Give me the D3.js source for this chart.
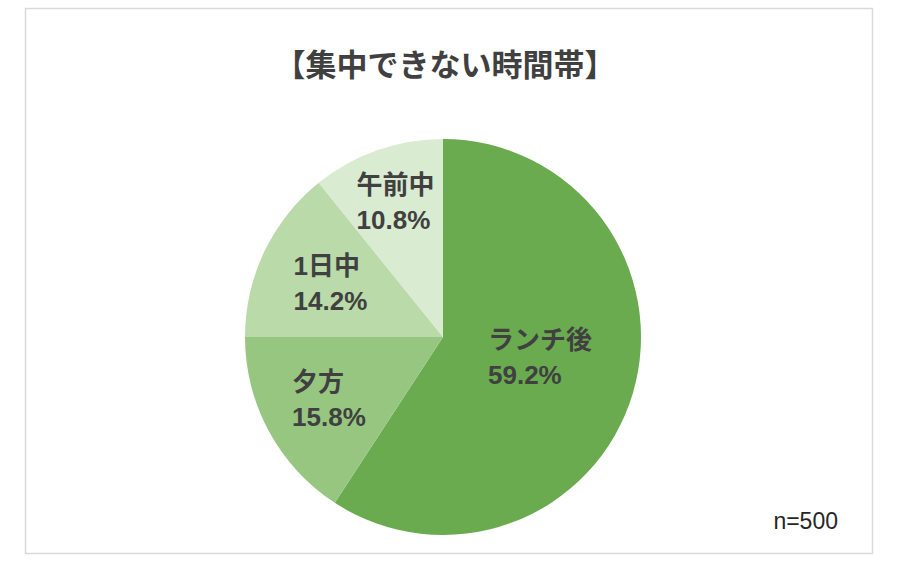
<!DOCTYPE html>
<html lang="ja">
<head>
    <meta charset="UTF-8">
    <title>集中できない時間帯</title>
    <style>
        body { margin: 0; background: #fff; }
        text { font-family: "Liberation Sans", "Noto Sans CJK JP", sans-serif; }
    </style>
</head>
<body>
    <svg id="container" width="900" height="561"></svg>

<script src="https://cdn.jsdelivr.net/npm/d3@7"></script>
<script>
    // data
    let categories = ["ランチ後", "夕方", "1日中", "午前中"]
    let shares = [59.2, 15.8, 14.2, 10.8]
    let sliceColors = ["#6aab50", "#97c680", "#badaa9", "#d9ebd0"]
    let title = "【集中できない時間帯】"
    let note = "n=500"

    // label placement: share of the radius, and a small turn (degrees) off the slice middle
    let labelRadius = [0.5, 0.655, 0.63, 0.72]
    let labelTurn = [-5, 0, 0, 0]

    let svg = d3.select("#container")

    // outer frame
    svg.append("rect")
        .attr("x", 25.5).attr("y", 8.5)
        .attr("width", 847).attr("height", 545)
        .attr("fill", "#fff")
        .attr("stroke", "#d9d9d9")
        .attr("stroke-width", 1.5)

    svg.append("text")
        .attr("x", 445).attr("y", 76)
        .attr("text-anchor", "middle")
        .attr("font-size", 31)
        .attr("font-weight", "bold")
        .attr("fill", "#404040")
        .text(title)

    svg.append("text")
        .attr("x", 838).attr("y", 529)
        .attr("text-anchor", "end")
        .attr("font-size", 23)
        .attr("fill", "#262626")
        .text(note)

    let cx = 443, cy = 337, radius = 198

    let data = categories.map((c, i) => ({ name: c, value: shares[i], color: sliceColors[i] }))

    let pie = d3.pie()
        .sort(null)
        .value(d => d.value)

    let arc = d3.arc()
        .innerRadius(0)
        .outerRadius(radius)

    let body = svg.append("g")
        .attr("transform", `translate(${cx},${cy})`)

    let arcs = pie(data)

    body.selectAll("path").data(arcs)
        .enter().append("path")
        .attr("d", arc)
        .attr("fill", d => d.data.color)

    let lineGap = 35

    let labels = body.selectAll("g.label").data(arcs)
        .enter().append("g")
        .attr("class", "label")

    labels.each(function(d, i) {
        let g = d3.select(this)
        let r = radius * labelRadius[i]
        let mid = (d.startAngle + d.endAngle) / 2 + labelTurn[i] * Math.PI / 180
        let px = r * Math.sin(mid)
        let py = -r * Math.cos(mid)

        let t = g.append("text")
            .attr("font-size", 26)
            .attr("font-weight", "bold")
            .attr("fill", "#404040")
        t.append("tspan").attr("x", 0).attr("y", -lineGap / 2).attr("dy", "0.36em").text(d.data.name)
        t.append("tspan").attr("x", 0).attr("y", lineGap / 2).attr("dy", "0.36em").text(d.data.value.toFixed(1) + "%")

        // lines stay left aligned, the block is centred on the label point
        let box = t.node().getBBox()
        let dx = px - (box.x + box.width / 2)
        g.attr("transform", `translate(${dx},${py})`)
    })
</script>
</body>
</html>
